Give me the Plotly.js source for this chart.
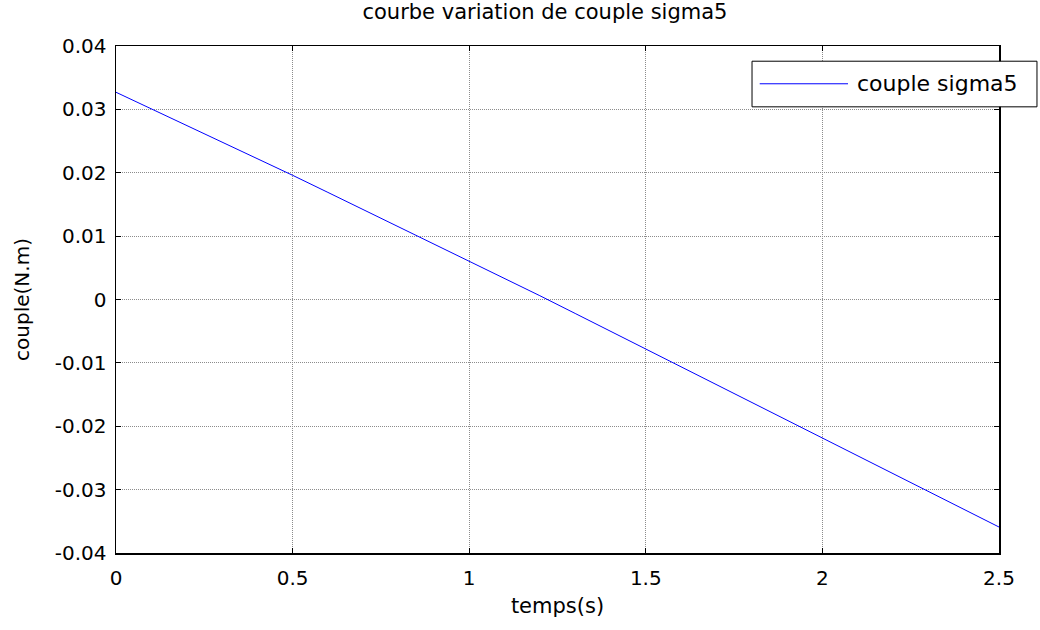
<!DOCTYPE html>
<html>
<head>
<meta charset="utf-8">
<script src="https://cdn.plot.ly/plotly-3.0.1.min.js"></script>
<style>html,body{margin:0;padding:0;background:#fff;}#chart{width:1040px;height:630px;}</style>
</head>
<body>
<div id="chart"></div>
<script>
const timeS = [0,0.1,0.2,0.3,0.4,0.5,0.6,0.7,0.8,0.9,1.0,1.1,1.2,1.3,1.4,1.5,1.6,1.7,1.8,1.9,2.0,2.1,2.2,2.3,2.4,2.5];
const coupleSigma5 = [0.0327,0.0301,0.0275,0.0249,0.0222,0.0196,0.0169,0.0142,0.0115,0.0088,0.0061,0.0033,0.0006,-0.0022,-0.0050,-0.0078,-0.0106,-0.0134,-0.0163,-0.0191,-0.0219,-0.0247,-0.0275,-0.0303,-0.0331,-0.0359];
const xTicks = [0,0.5,1,1.5,2,2.5];
const xTickText = ['0','0.5','1','1.5','2','2.5'];
const yTicks = [-0.04,-0.03,-0.02,-0.01,0,0.01,0.02,0.03,0.04];
const yTickText = ['-0.04','-0.03','-0.02','-0.01','0','0.01','0.02','0.03','0.04'];
const seriesName = 'couple sigma5';

const font = 'DejaVu Sans, Liberation Sans, Arial, sans-serif';
const lineColor = '#0000ff';
const trace = {
  x: timeS, y: coupleSigma5, type: 'scatter', mode: 'lines',
  name: seriesName, line: {color: lineColor, width: 1}, showlegend: false
};
const axisCommon = {
  showline: true, linecolor: '#000', linewidth: 1.5, mirror: 'ticks',
  ticks: 'inside', ticklen: 5, tickcolor: '#000', tickwidth: 1,
  showgrid: true, gridcolor: '#8c8c8c', griddash: '1px,1px', gridwidth: 1,
  zeroline: false, tickfont: {family: font, size: 20, color: '#000'}
};
// manual legend box (MATLAB style) in paper coordinates
const leg = {x0: 0.7203, x1: 1.043, y0: 0.880, y1: 0.970, lx0: 0.729, lx1: 0.829, ly: 0.9255, tx: 0.837};
const layout = {
  width: 1040, height: 630,
  margin: {l: 116, r: 41, t: 46, b: 77},
  paper_bgcolor: '#fff', plot_bgcolor: '#fff',
  title: {text: 'courbe variation de couple sigma5', font: {family: font, size: 21, color: '#000'}, x: 0.524, xanchor: 'center', y: 0.981, yanchor: 'middle'},
  xaxis: Object.assign({}, axisCommon, {
    range: [0, 2.5], tickvals: xTicks, ticktext: xTickText, ticklabelstandoff: 6,
    title: {text: 'temps(s)', font: {family: font, size: 21, color: '#000'}, standoff: 10}
  }),
  yaxis: Object.assign({}, axisCommon, {
    range: [-0.04, 0.04], tickvals: yTicks, ticktext: yTickText, ticklabelstandoff: 4,
    title: {text: 'couple(N.m)', font: {family: font, size: 20, color: '#000'}, standoff: 20}
  }),
  showlegend: false,
  shapes: [
    {type: 'rect', xref: 'paper', yref: 'paper', x0: leg.x0, x1: leg.x1, y0: leg.y0, y1: leg.y1,
     line: {color: '#000', width: 1}, fillcolor: '#fff', layer: 'above'},
    {type: 'line', xref: 'paper', yref: 'paper', x0: leg.lx0, x1: leg.lx1, y0: leg.ly, y1: leg.ly,
     line: {color: lineColor, width: 1}, layer: 'above'}
  ],
  annotations: [
    {xref: 'paper', yref: 'paper', x: leg.tx, y: leg.ly, xanchor: 'left', yanchor: 'middle',
     text: seriesName, showarrow: false, font: {family: font, size: 22, color: '#000'}}
  ]
};
Plotly.newPlot('chart', [trace], layout, {displayModeBar: false, staticPlot: true});
</script>
</body>
</html>
